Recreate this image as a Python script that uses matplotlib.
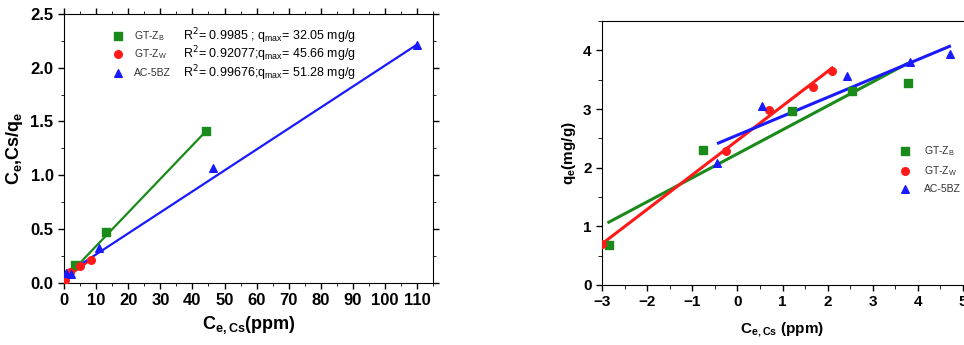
import numpy as np
import matplotlib
matplotlib.use("Agg")
import matplotlib.pyplot as plt
from matplotlib.ticker import MultipleLocator

# Langmuir (left panel) data: Ce vs Ce/qe
lang_b_x = [3.3, 13.0, 44.3]
lang_b_y = [0.17, 0.47, 1.41]
lang_b_fit = [0.0, 44.3]          # x-range of fitted line
lang_b_coef = [1 / 32.05, 0.03]   # slope, intercept

lang_w_x = [0.4, 2.0, 5.0, 8.3]
lang_w_y = [0.03, 0.10, 0.16, 0.21]
lang_w_fit = [0.0, 8.3]
lang_w_coef = [0.0215, 0.035]

lang_a_x = [0.5, 2.2, 11.0, 46.5, 110.0]
lang_a_y = [0.09, 0.08, 0.32, 1.07, 2.21]
lang_a_fit = [0.0, 110.0]
lang_a_coef = [1 / 51.28, 0.07]

lang_labels = ["GT-Z$_{\\mathregular{B}}$", "GT-Z$_{\\mathregular{W}}$", "AC-5BZ"]
lang_stats = ["R$^2$= 0.9985 ; q$_{\\mathregular{max}}$= 32.05 mg/g",
              "R$^2$= 0.92077;q$_{\\mathregular{max}}$= 45.66 mg/g",
              "R$^2$= 0.99676;q$_{\\mathregular{max}}$= 51.28 mg/g"]

# Freundlich (right panel) data
fr_b_x = [-2.85, -0.77, 1.2, 2.55, 3.78]
fr_b_y = [0.69, 2.30, 2.97, 3.30, 3.44]
fr_b_fit = [-2.85, 3.75]
fr_b_coef = [0.409, 2.236]

fr_w_x = [-3.0, -0.25, 0.7, 1.68, 2.1]
fr_w_y = [0.70, 2.28, 2.98, 3.37, 3.65]
fr_w_fit = [-3.0, 2.1]
fr_w_coef = [0.588, 2.465]

fr_a_x = [-0.45, 0.55, 2.42, 3.83, 4.72]
fr_a_y = [2.08, 3.05, 3.57, 3.80, 3.93]
fr_a_fit = [-0.42, 4.7]
fr_a_coef = [0.322, 2.555]

fr_labels = ["GT-Z$_{\\mathregular{B}}$", "GT-Z$_{\\mathregular{W}}$", "AC-5BZ"]

colors = ["#1a8a1a", "#ff1a1a", "#1a1aff"]
markers = ["s", "o", "^"]

plt.rcParams['font.family'] = ['Liberation Sans', 'DejaVu Sans']

fig = plt.figure(figsize=(9.64, 3.45), dpi=100)

# ---------------- left panel ----------------
ax1 = fig.add_axes([0.0664, 0.180, 0.383, 0.780])
sets = [(lang_b_x, lang_b_y, lang_b_fit, lang_b_coef),
        (lang_w_x, lang_w_y, lang_w_fit, lang_w_coef),
        (lang_a_x, lang_a_y, lang_a_fit, lang_a_coef)]
for (x, y, fr, cf), c, m in zip(sets, colors, markers):
    xx = np.array(fr)
    ax1.plot(xx, cf[0] * xx + cf[1], color=c, lw=1.6)
    ax1.scatter(x, y, color=c, marker=m, s=30, zorder=3)

# hand-made legend with the fit statistics next to each entry
row_y = [0.918, 0.851, 0.781]
for i in range(3):
    ax1.scatter([0.146], [row_y[i]], transform=ax1.transAxes, color=colors[i],
                marker=markers[i], s=30, clip_on=False)
    ax1.text(0.19, row_y[i], lang_labels[i], transform=ax1.transAxes, fontsize=7.5,
             va="center", ha="left", color="#333333")
    ax1.text(0.322, row_y[i], lang_stats[i], transform=ax1.transAxes, fontsize=9,
             va="center", ha="left")

ax1.set_xlim(0, 115)
ax1.set_ylim(0, 2.5)
ax1.xaxis.set_major_locator(MultipleLocator(10))
ax1.yaxis.set_major_locator(MultipleLocator(0.5))
ax1.yaxis.set_minor_locator(MultipleLocator(0.25))
ax1.xaxis.set_minor_locator(MultipleLocator(5))
ax1.tick_params(which="both", top=True, right=True, direction="out")
ax1.tick_params(axis="both", which="major", labelsize=12, width=1, length=4)
ax1.tick_params(which="minor", length=2)
for lab in ax1.get_xticklabels() + ax1.get_yticklabels():
    lab.set_fontweight("bold")
ax1.set_xlabel("C$_{\\mathregular{e,Cs}}$(ppm)", fontsize=13, fontweight="bold")
ax1.set_ylabel("C$_{\\mathregular{e}}$,Cs/q$_{\\mathregular{e}}$", fontsize=13,
               fontweight="bold")

# ---------------- right panel ----------------
ax2 = fig.add_axes([0.6245, 0.174, 0.3745, 0.765])
sets = [(fr_b_x, fr_b_y, fr_b_fit, fr_b_coef),
        (fr_w_x, fr_w_y, fr_w_fit, fr_w_coef),
        (fr_a_x, fr_a_y, fr_a_fit, fr_a_coef)]
handles = []
for (x, y, fr, cf), c, m in zip(sets, colors, markers):
    xx = np.array(fr)
    ax2.plot(xx, cf[0] * xx + cf[1], color=c, lw=2.2)
    h = ax2.scatter(x, y, color=c, marker=m, s=30, zorder=3)
    handles.append(h)

leg2 = ax2.legend(handles, fr_labels, loc="center right", bbox_to_anchor=(1.02, 0.44),
                  frameon=False, fontsize=7.5, handletextpad=0.8, labelspacing=0.6,
                  scatterpoints=1)
for t in leg2.get_texts():
    t.set_color("#333333")

ax2.set_xlim(-3, 5)
ax2.set_ylim(0, 4.5)
ax2.xaxis.set_major_locator(MultipleLocator(1))
ax2.xaxis.set_minor_locator(MultipleLocator(0.5))
ax2.yaxis.set_major_locator(MultipleLocator(1))
ax2.yaxis.set_minor_locator(MultipleLocator(0.5))
ax2.spines["right"].set_visible(False)
ax2.tick_params(which="both", direction="out")
ax2.tick_params(axis="both", which="major", labelsize=11, width=1, length=4)
ax2.tick_params(which="minor", length=3)
for lab in ax2.get_xticklabels() + ax2.get_yticklabels():
    lab.set_fontweight("bold")
ax2.set_xlabel("C$_{\\mathregular{e,Cs}}$ (ppm)", fontsize=11, fontweight="bold",
               labelpad=8)
ax2.set_ylabel("q$_{\\mathregular{e}}$(mg/g)", fontsize=11, fontweight="bold")

fig.savefig("out.png", dpi=100)
